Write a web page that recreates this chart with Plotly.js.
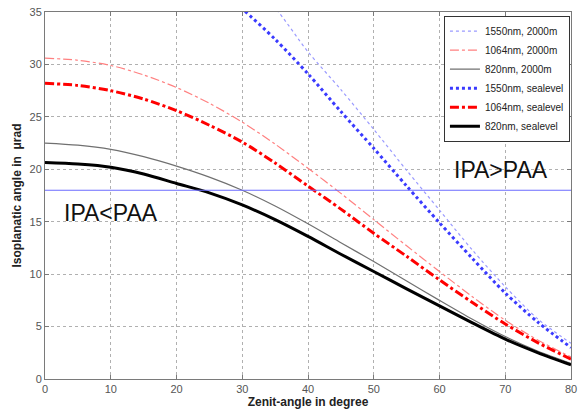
<!DOCTYPE html>
<html>
<head>
<meta charset="utf-8">
<script src="https://cdn.plot.ly/plotly-3.0.1.min.js"></script>
<style>html,body{margin:0;padding:0;background:#fff;}#chart{width:583px;height:414px;}</style>
</head>
<body>
<div id="chart"></div>
<script>
// Zenith angle in degrees
var zenith = [0, 5, 10, 15, 20, 25, 30, 35, 40, 45, 50, 55, 60, 65, 70, 75, 80];

// Isoplanatic angle (µrad) per series
var nm1550_2000m = [48.3, 47.9, 47.0, 45.5, 43.6, 41.3, 38.6, 35.4, 31.2, 27.6, 23.8, 19.9, 16.1, 12.3, 8.8, 5.7, 3.4];
var nm1064_2000m = [30.6, 30.4, 29.9, 29.0, 27.8, 26.3, 24.5, 22.4, 20.1, 17.7, 15.2, 12.7, 10.25, 7.85, 5.6, 3.7, 2.1];
var nm820_2000m  = [22.5, 22.3, 21.9, 21.2, 20.3, 19.25, 18.0, 16.5, 14.8, 13.0, 11.2, 9.35, 7.5, 5.7, 4.05, 2.65, 1.5];
var nm1550_sea   = [44.3, 44.0, 43.4, 42.0, 40.0, 37.9, 35.3, 32.4, 29.1, 25.5, 22.0, 18.4, 14.9, 11.5, 8.2, 5.4, 3.0];
var nm1064_sea   = [28.2, 28.0, 27.5, 26.7, 25.6, 24.2, 22.6, 20.6, 18.4, 16.2, 13.9, 11.7, 9.45, 7.3, 5.25, 3.45, 1.9];
var nm820_sea    = [20.65, 20.5, 20.2, 19.55, 18.65, 17.75, 16.6, 15.2, 13.6, 11.9, 10.25, 8.6, 6.97, 5.35, 3.8, 2.5, 1.35];

// Point-ahead angle level (µrad)
var paaX = [0, 80];
var paaY = [18, 18];

var seriesNames = ["1550nm, 2000m", "1064nm, 2000m", "820nm, 2000m", "1550nm, sealevel", "1064nm, sealevel", "820nm, sealevel"];
var regionLabels = ["IPA>PAA", "IPA<PAA"];

var traces = [
  {x: zenith, y: nm1550_2000m, name: seriesNames[0], mode: "lines", line: {color: "#9a9aff", width: 1.2, dash: "dot", shape: "spline", smoothing: 0.8}},
  {x: zenith, y: nm1064_2000m, name: seriesNames[1], mode: "lines", line: {color: "#ff8080", width: 1.2, dash: "dashdot", shape: "spline", smoothing: 0.8}},
  {x: zenith, y: nm820_2000m,  name: seriesNames[2], mode: "lines", line: {color: "#707070", width: 1.2, shape: "spline", smoothing: 0.8}},
  {x: zenith, y: nm1550_sea,   name: seriesNames[3], mode: "lines", line: {color: "#3a3aff", width: 3, dash: "dot", shape: "spline", smoothing: 0.8}},
  {x: zenith, y: nm1064_sea,   name: seriesNames[4], mode: "lines", line: {color: "#ff0000", width: 3, dash: "dashdot", shape: "spline", smoothing: 0.8}},
  {x: zenith, y: nm820_sea,    name: seriesNames[5], mode: "lines", line: {color: "#000000", width: 3, shape: "spline", smoothing: 0.8}},
  {x: paaX, y: paaY, mode: "lines", showlegend: false, hoverinfo: "skip", line: {color: "#6b6bff", width: 1.2}}
];

var axisCommon = {
  showline: true, linecolor: "#7a7a7a", linewidth: 1, mirror: "ticks",
  ticks: "inside", ticklen: 4, tickcolor: "#7a7a7a",
  showgrid: true, gridcolor: "#b0b0b0", griddash: "dot", gridwidth: 1,
  zeroline: false,
  tickfont: {family: "Liberation Sans, Arial, sans-serif", size: 11, color: "#555"}
};

var layout = {
  width: 583, height: 414,
  margin: {l: 45, r: 12, t: 12, b: 35},
  paper_bgcolor: "#fff", plot_bgcolor: "#fff",
  showlegend: true,
  xaxis: Object.assign({}, axisCommon, {
    range: [0, 80], dtick: 10, tick0: 0,
    title: {text: "<b>Zenit-angle in degree</b>", standoff: 1, font: {family: "Liberation Sans, Arial, sans-serif", size: 12, color: "#222"}}
  }),
  yaxis: Object.assign({}, axisCommon, {
    range: [0, 35], dtick: 5, tick0: 0,
    title: {text: "<b>Isoplanatic angle in  \u03bcrad</b>", standoff: 5, font: {family: "Liberation Sans, Arial, sans-serif", size: 12, color: "#222"}}
  }),
  legend: {
    x: 0.998, xanchor: "right", y: 0.99, yanchor: "top",
    bgcolor: "#fff", bordercolor: "#333", borderwidth: 1,
    font: {family: "Liberation Sans, Arial, sans-serif", size: 10, color: "#222"},
    itemwidth: 30, tracegroupgap: 0
  },
  annotations: [
    {x: 69.3, y: 19.9, xref: "x", yref: "y", text: regionLabels[0], showarrow: false,
     font: {family: "Liberation Sans, Arial, sans-serif", size: 23, color: "#111"}},
    {x: 10.0, y: 15.8, xref: "x", yref: "y", text: regionLabels[1], showarrow: false,
     font: {family: "Liberation Sans, Arial, sans-serif", size: 23, color: "#111"}}
  ]
};

Plotly.newPlot("chart", traces, layout, {displayModeBar: false, staticPlot: true});
</script>
</body>
</html>
